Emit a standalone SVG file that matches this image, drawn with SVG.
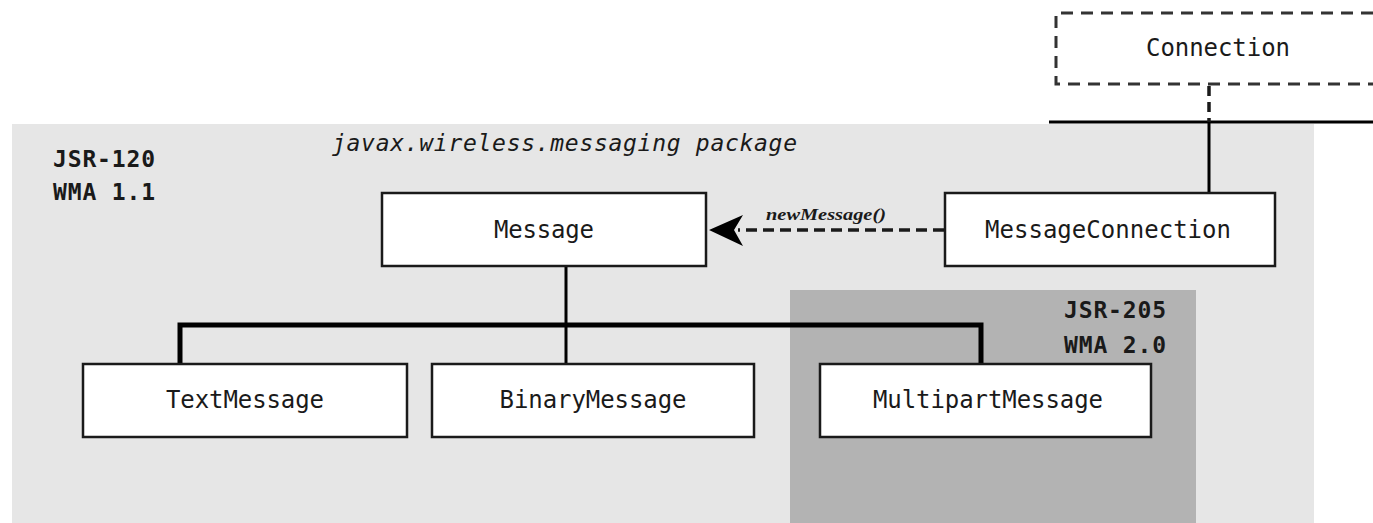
<svg xmlns="http://www.w3.org/2000/svg" width="1373" height="523" viewBox="0 0 1373 523">
  <style>
    .node rect { fill: #ffffff; stroke: #1a1a1a; stroke-width: 2.5; }
    .label { font-family: "DejaVu Sans Mono", "Liberation Mono", monospace; font-size: 24px; fill: #1a1a1a; text-anchor: middle; }
    .tag { font-family: "DejaVu Sans Mono", "Liberation Mono", monospace; font-size: 23px; font-weight: bold; fill: #1a1a1a; }
    .pkg { font-family: "DejaVu Sans Mono", "Liberation Mono", monospace; font-size: 23px; font-style: italic; fill: #1a1a1a; }
    .call { font-family: "Liberation Serif", serif; font-size: 17px; font-style: italic; font-weight: bold; fill: #1a1a1a; }
    .solid { fill: none; stroke: #000; }
  </style>

  <!-- package and version regions -->
  <rect x="12" y="124" width="1302" height="399" fill="#e6e6e6"/>
  <rect x="790" y="290" width="406" height="233" fill="#b3b3b3"/>

  <text class="pkg" x="332" y="151" textLength="465" lengthAdjust="spacing">javax.wireless.messaging package</text>
  <text class="tag" x="53" y="167" textLength="102" lengthAdjust="spacing">JSR-120</text>
  <text class="tag" x="53" y="200" textLength="102" lengthAdjust="spacing">WMA 1.1</text>
  <text class="tag" x="1064" y="318" textLength="102" lengthAdjust="spacing">JSR-205</text>
  <text class="tag" x="1064" y="353" textLength="102" lengthAdjust="spacing">WMA 2.0</text>

  <!-- connectors -->
  <g id="connectors">
    <line x1="1049" y1="122" x2="1373" y2="122" stroke="#000" stroke-width="3"/>
    <line x1="1209" y1="86" x2="1209" y2="122" stroke="#1a1a1a" stroke-width="3.5" stroke-dasharray="10 6"/>
    <line x1="1209" y1="122" x2="1209" y2="193" stroke="#000" stroke-width="3"/>
    <line x1="944" y1="230" x2="738" y2="230" stroke="#1a1a1a" stroke-width="3.5" stroke-dasharray="11 6"/>
    <path d="M709,230 L743,215 L734,230 L743,246 Z" fill="#000"/>
    <text class="call" x="766" y="220" textLength="120" lengthAdjust="spacingAndGlyphs">newMessage()</text>
    <line x1="566" y1="266" x2="566" y2="364" stroke="#000" stroke-width="3"/>
    <polyline class="solid" points="180,364 180,325 981,325 981,364" stroke-width="5"/>
  </g>

  <!-- nodes -->
  <g id="connection">
    <path d="M1373,13 H1056 V84 H1373" fill="#ffffff" stroke="#333" stroke-width="3" stroke-dasharray="12 8"/>
    <text class="label" x="1218" y="56" textLength="144" lengthAdjust="spacing">Connection</text>
  </g>
  <g id="message" class="node">
    <rect x="382" y="193" width="324" height="73"/>
    <text class="label" x="544" y="238" textLength="100" lengthAdjust="spacing">Message</text>
  </g>
  <g id="messageConnection" class="node">
    <rect x="945" y="193" width="330" height="73"/>
    <text class="label" x="1108" y="238" textLength="246" lengthAdjust="spacing">MessageConnection</text>
  </g>
  <g id="textMessage" class="node">
    <rect x="83" y="364" width="324" height="73"/>
    <text class="label" x="245" y="408" textLength="158" lengthAdjust="spacing">TextMessage</text>
  </g>
  <g id="binaryMessage" class="node">
    <rect x="432" y="364" width="322" height="73"/>
    <text class="label" x="593" y="408" textLength="187" lengthAdjust="spacing">BinaryMessage</text>
  </g>
  <g id="multipartMessage" class="node">
    <rect x="820" y="364" width="331" height="73"/>
    <text class="label" x="988" y="408" textLength="230" lengthAdjust="spacing">MultipartMessage</text>
  </g>
</svg>
